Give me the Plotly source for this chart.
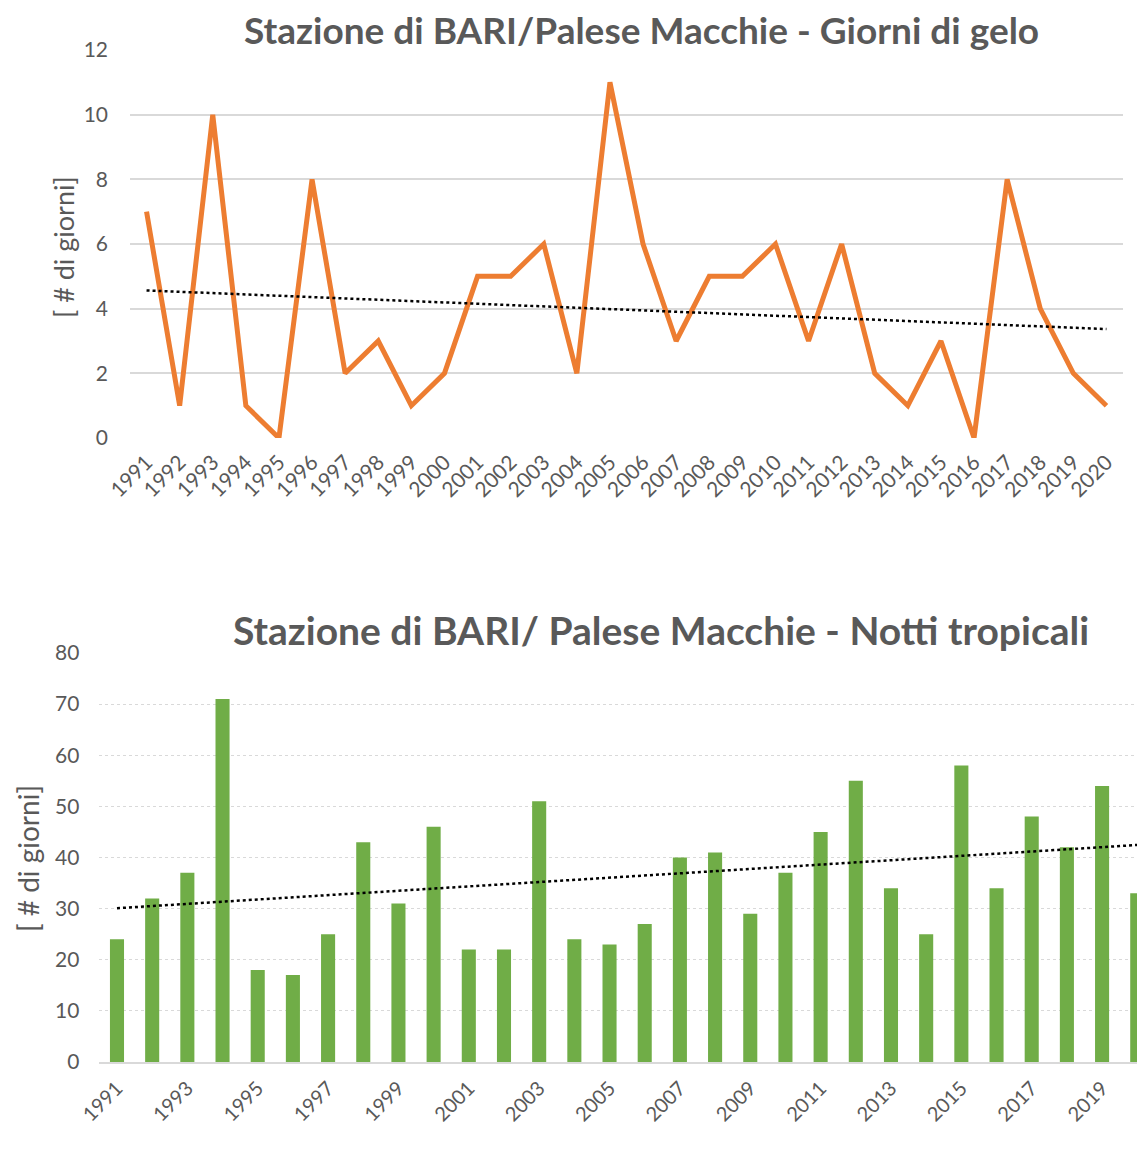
import numpy as np
import plotly.graph_objects as go

years = list(range(1991, 2021))
giorni_gelo = [7, 1, 10, 1, 0, 8, 2, 3, 1, 2, 5, 5, 6, 2, 11, 6, 3, 5, 5, 6, 3, 6, 2, 1, 3, 0, 8, 4, 2, 1]
notti_tropicali = [24, 32, 37, 71, 18, 17, 25, 43, 31, 46, 22, 22, 51, 24, 23, 27, 40, 41, 29, 37,
                   45, 55, 34, 25, 58, 34, 48, 42, 54, 33]
title_top = "Stazione di BARI/Palese Macchie - Giorni di gelo"
title_bottom = "Stazione di BARI/ Palese Macchie - Notti tropicali"
y_title = "[ # di giorni]"
bottom_tick_years = list(range(1991, 2021, 2))

OFF = 8  # default body margin of the page
W, H = 1145 - OFF, 1165 - OFF
FONT = "Lato"
GRAY = "#595959"

x = np.array(years, dtype=float)
p1 = np.polyfit(x, np.array(giorni_gelo, dtype=float), 1)
p2 = np.polyfit(x, np.array(notti_tropicali, dtype=float), 1)
trend1 = np.polyval(p1, x)
trend2 = np.polyval(p2, x)

fig = go.Figure()
fig.add_trace(go.Scatter(x=years, y=giorni_gelo, mode="lines",
                         line=dict(color="#ED7D31", width=5), xaxis="x", yaxis="y",
                         showlegend=False))
fig.add_trace(go.Scatter(x=years, y=trend1, mode="lines",
                         line=dict(color="#000000", width=2.5, dash="dot"), xaxis="x", yaxis="y",
                         showlegend=False))
fig.add_trace(go.Bar(x=years, y=notti_tropicali, marker=dict(color="#70AD47", line=dict(width=0)),
                     xaxis="x2", yaxis="y2", showlegend=False, width=0.4))
fig.add_trace(go.Scatter(x=years, y=trend2, mode="lines",
                         line=dict(color="#000000", width=2.5, dash="dot"), xaxis="x2", yaxis="y2",
                         showlegend=False))

def fx(p):
    return (p - OFF) / W

def fy(p):
    return 1 - (p - OFF) / H

fig.update_layout(
    template="none",
    width=W, height=H,
    margin=dict(l=0, r=0, t=0, b=0, autoexpand=False),
    paper_bgcolor="white", plot_bgcolor="white",
    font=dict(family=FONT, color=GRAY),
    xaxis=dict(domain=[fx(130), fx(1123)], range=[1990.5, 2020.5], tickmode="array",
               tickvals=years, ticktext=[str(v) for v in years], tickangle=-45,
               tickfont=dict(size=21, color=GRAY), showgrid=False, zeroline=False,
               showline=False, ticks="", ticklabelstandoff=7, anchor="y", automargin=False),
    yaxis=dict(domain=[fy(438), fy(50)], range=[0, 12], dtick=2, tickfont=dict(size=21, color=GRAY),
               showgrid=True, gridcolor="#D9D9D9", gridwidth=1.5, zeroline=False,
               showline=False, ticks="", ticklabelstandoff=21, anchor="x", automargin=False),
    xaxis2=dict(domain=[fx(99.4), 1.0], range=[1990.5, 2020.22], tickmode="array",
                tickvals=bottom_tick_years, ticktext=[str(v) for v in bottom_tick_years],
                tickangle=-45, tickfont=dict(size=20, color=GRAY), showgrid=False,
                zeroline=False, showline=True, linecolor="#D9D9D9", linewidth=1.5,
                ticks="", ticklabelstandoff=5, anchor="y2", automargin=False),
    yaxis2=dict(domain=[fy(1062), fy(653)], range=[0, 80], dtick=10, tickfont=dict(size=21, color=GRAY),
                showgrid=True, gridcolor="#D9D9D9", gridwidth=1, griddash="dot", zeroline=False,
                showline=False, ticks="", ticklabelstandoff=19, anchor="x2", automargin=False),
    bargap=0.6,
    annotations=[
        dict(text=f"<b>{title_top}</b>", x=fx(641), y=fy(29), xref="paper", yref="paper",
             xanchor="center", yanchor="middle", showarrow=False,
             font=dict(size=37, color=GRAY, family=FONT)),
        dict(text=f"<b>{title_bottom}</b>", x=fx(661), y=fy(630), xref="paper", yref="paper",
             xanchor="center", yanchor="middle", showarrow=False,
             font=dict(size=39, color=GRAY, family=FONT)),
        dict(text=y_title, x=fx(63), y=fy(247), xref="paper", yref="paper",
             xanchor="center", yanchor="middle", showarrow=False, textangle=-90,
             font=dict(size=27, color=GRAY, family=FONT)),
        dict(text=y_title, x=fx(28), y=fy(859), xref="paper", yref="paper",
             xanchor="center", yanchor="middle", showarrow=False, textangle=-90,
             font=dict(size=28, color=GRAY, family=FONT)),
    ],
)

fig.write_html("out.html")
